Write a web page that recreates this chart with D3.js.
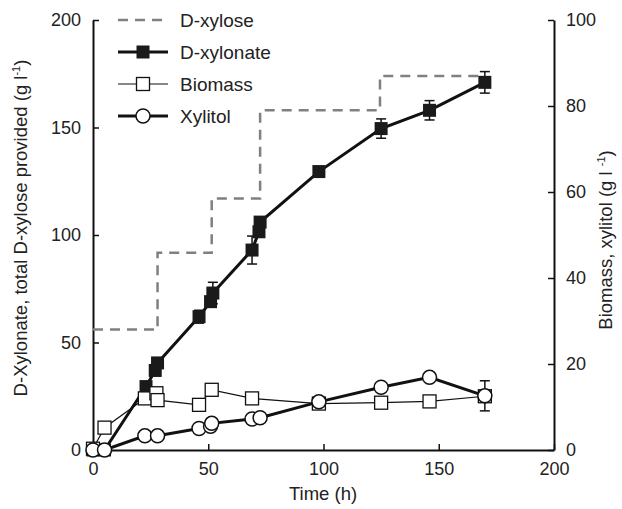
<!DOCTYPE html>
<html>
<head>
<meta charset="utf-8">
<script src="https://cdn.jsdelivr.net/npm/d3@7"></script>
<style>
  body { margin: 0; background: #fff; }
  svg { font-family: "Liberation Sans", Arial, sans-serif; }
</style>
</head>
<body>
<div id="chart"></div>
<script>
// Values
var xyloseTime = [0, 28, 51.5, 72.5, 124.5, 170];
var xyloseFed = [56, 91.7, 117, 158, 174, 174];

var xylonateTime = [0, 5, 23, 27, 28, 46, 51, 52, 69, 72, 72.5, 98, 125, 146, 170];
var xylonate = [0, 0, 29.5, 37, 40.5, 62, 69, 73, 93, 101.5, 106, 129.5, 149.5, 158, 171];
var xylonateErr = [0, 0, 1, 1, 1, 3, 1.5, 5, 6.5, 1, 2, 1, 4.5, 4.5, 5];

var biomassTime = [0, 5, 22.5, 27.5, 28, 46, 51.5, 69, 98, 125, 146, 170];
var biomass = [0.3, 5.2, 12, 13.2, 11.6, 10.5, 14, 12, 10.8, 11, 11.3, 12.5];

var xylitolTime = [0, 5, 22.5, 28, 46, 51, 51.5, 69, 72.5, 98, 125, 146, 170];
var xylitol = [0, 0, 3.3, 3.3, 5, 5.5, 6.2, 7.2, 7.5, 11.2, 14.6, 16.9, 12.6];
var xylitolErr = [0, 0, 0, 0, 0, 0, 0, 0, 0, 0, 0, 0.8, 3.5];

var xTicks = [0, 50, 100, 150, 200];
var yLeftTicks = [0, 50, 100, 150, 200];
var yRightTicks = [0, 20, 40, 60, 80, 100];

var width = 622, height = 509;
var svg = d3.select('#chart').append('svg')
  .attr('width', width).attr('height', height);

var x = d3.scaleLinear().domain([0, 200]).range([93, 554]);
var yL = d3.scaleLinear().domain([0, 200]).range([450, 20]);
var yR = d3.scaleLinear().domain([0, 100]).range([450, 20]);

function zip(t, v, e) {
  return t.map(function(d, i) { return { t: d, v: v[i], e: e ? e[i] : 0 }; });
}
var xylonateData = zip(xylonateTime, xylonate, xylonateErr);
var biomassData = zip(biomassTime, biomass);
var xylitolData = zip(xylitolTime, xylitol, xylitolErr);
var xyloseData = zip(xyloseTime, xyloseFed);

// Axes
function styleAxis(g) {
  g.select('.domain').attr('stroke', '#111').attr('stroke-width', 2);
  g.selectAll('.tick line').attr('stroke', '#111').attr('stroke-width', 1.5);
  g.selectAll('.tick text').attr('fill', '#222').style('font-size', '18px');
}
svg.append('g').attr('transform', 'translate(0,450)')
  .call(d3.axisBottom(x).tickValues(xTicks).tickSizeInner(-6).tickSizeOuter(0).tickPadding(12))
  .call(styleAxis);
svg.append('g').attr('transform', 'translate(93,0)')
  .call(d3.axisLeft(yL).tickValues(yLeftTicks).tickSizeInner(-6).tickSizeOuter(0).tickPadding(12))
  .call(styleAxis);
svg.append('g').attr('transform', 'translate(554,0)')
  .call(d3.axisRight(yR).tickValues(yRightTicks).tickSizeInner(-6).tickSizeOuter(0).tickPadding(12))
  .call(styleAxis);

// Axis titles
svg.append('text').attr('x', 323).attr('y', 500).attr('text-anchor', 'middle')
  .style('font-size', '18.5px').attr('fill', '#222').text('Time (h)');
var lt = svg.append('text').attr('transform', 'translate(27,228) rotate(-90)')
  .attr('text-anchor', 'middle').style('font-size', '18.5px').attr('fill', '#222');
lt.append('tspan').text('D-Xylonate, total D-xylose provided (g l');
lt.append('tspan').attr('dy', -7).style('font-size', '11px').text('-1');
lt.append('tspan').attr('dy', 7).text(')');
var rt = svg.append('text').attr('transform', 'translate(612,240) rotate(-90)')
  .attr('text-anchor', 'middle').style('font-size', '18.5px').attr('fill', '#222');
rt.append('tspan').text('Biomass, xylitol (g l ');
rt.append('tspan').attr('dy', -7).style('font-size', '11px').text('-1');
rt.append('tspan').attr('dy', 7).text(')');

// D-xylose fed (step)
svg.append('path').datum(xyloseData)
  .attr('fill', 'none').attr('stroke', '#808080').attr('stroke-width', 2.5)
  .attr('stroke-dasharray', '10,7')
  .attr('d', d3.line().curve(d3.curveStepAfter)
    .x(function(d) { return x(d.t); }).y(function(d) { return yL(d.v); }));

// Error bars
function errorBars(data, y) {
  var g = svg.append('g').attr('stroke', '#111').attr('stroke-width', 1.5);
  var withErr = data.filter(function(d) { return d.e > 0; });
  g.selectAll('line.v').data(withErr).enter().append('line')
    .attr('x1', function(d) { return x(d.t); }).attr('x2', function(d) { return x(d.t); })
    .attr('y1', function(d) { return y(d.v - d.e); }).attr('y2', function(d) { return y(d.v + d.e); });
  [-1, 1].forEach(function(s) {
    g.selectAll('line.c' + s).data(withErr).enter().append('line')
      .attr('x1', function(d) { return x(d.t) - 5; }).attr('x2', function(d) { return x(d.t) + 5; })
      .attr('y1', function(d) { return y(d.v + s * d.e); }).attr('y2', function(d) { return y(d.v + s * d.e); });
  });
}
errorBars(xylonateData, yL);
errorBars(xylitolData, yR);

// D-xylonate
svg.append('path').datum(xylonateData)
  .attr('fill', 'none').attr('stroke', '#111').attr('stroke-width', 3)
  .attr('d', d3.line().x(function(d) { return x(d.t); }).y(function(d) { return yL(d.v); }));
svg.selectAll('rect.xylonate').data(xylonateData).enter().append('rect')
  .attr('x', function(d) { return x(d.t) - 6.5; }).attr('y', function(d) { return yL(d.v) - 6.5; })
  .attr('width', 13).attr('height', 13).attr('fill', '#1a1a1a');

// Biomass
svg.append('path').datum(biomassData)
  .attr('fill', 'none').attr('stroke', '#111').attr('stroke-width', 1.2)
  .attr('d', d3.line().x(function(d) { return x(d.t); }).y(function(d) { return yR(d.v); }));
svg.selectAll('rect.biomass').data(biomassData).enter().append('rect')
  .attr('x', function(d) { return x(d.t) - 6.5; }).attr('y', function(d) { return yR(d.v) - 6.5; })
  .attr('width', 13).attr('height', 13)
  .attr('fill', '#fff').attr('stroke', '#111').attr('stroke-width', 1.3);

// Xylitol
svg.append('path').datum(xylitolData)
  .attr('fill', 'none').attr('stroke', '#111').attr('stroke-width', 3)
  .attr('d', d3.line().x(function(d) { return x(d.t); }).y(function(d) { return yR(d.v); }));
svg.selectAll('circle.xylitol').data(xylitolData).enter().append('circle')
  .attr('cx', function(d) { return x(d.t); }).attr('cy', function(d) { return yR(d.v); })
  .attr('r', 7).attr('fill', '#fff').attr('stroke', '#111').attr('stroke-width', 1.5);

// Legend
var legendItems = ['D-xylose', 'D-xylonate', 'Biomass', 'Xylitol'];
var legend = svg.append('g');
legendItems.forEach(function(name, i) {
  var y = 20 + i * 32;
  var g = legend.append('g').attr('transform', 'translate(0,' + y + ')');
  var line = g.append('line').attr('x1', 118).attr('x2', 168).attr('y1', 0).attr('y2', 0);
  if (i === 0) {
    line.attr('stroke', '#808080').attr('stroke-width', 2.5).attr('stroke-dasharray', '10,7');
  } else {
    line.attr('stroke', '#111').attr('stroke-width', i === 2 ? 1.2 : 3);
  }
  if (i === 1) {
    g.append('rect').attr('x', 136.5).attr('y', -6.5).attr('width', 13).attr('height', 13).attr('fill', '#1a1a1a');
  } else if (i === 2) {
    g.append('rect').attr('x', 136.5).attr('y', -6.5).attr('width', 13).attr('height', 13)
      .attr('fill', '#fff').attr('stroke', '#111').attr('stroke-width', 1.3);
  } else if (i === 3) {
    g.append('circle').attr('cx', 143).attr('cy', 0).attr('r', 7)
      .attr('fill', '#fff').attr('stroke', '#111').attr('stroke-width', 1.5);
  }
  g.append('text').attr('x', 180).attr('y', 0).attr('dy', '0.35em')
    .style('font-size', '19px').attr('fill', '#222').text(name);
});
</script>
</body>
</html>
